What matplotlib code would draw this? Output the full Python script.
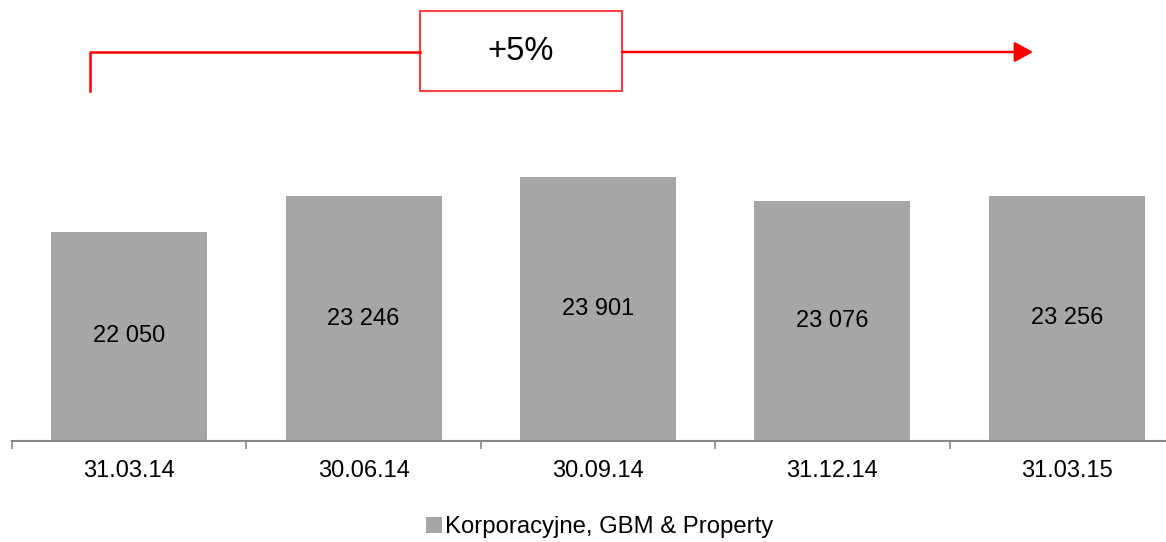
import matplotlib
matplotlib.use("Agg")
import matplotlib.pyplot as plt
from matplotlib.lines import Line2D
from matplotlib.patches import Rectangle, FancyArrowPatch

plt.rcParams['font.family'] = ['Liberation Sans', 'DejaVu Sans']

categories = ["31.03.14", "30.06.14", "30.09.14", "31.12.14", "31.03.15"]
values = [22050, 23246, 23901, 23076, 23256]
series_name = "Korporacyjne, GBM & Property"
growth_label = "+5%"

W, H = 1166, 542
fig = plt.figure(figsize=(W / 100, H / 100), dpi=100)

def fx(px):
    return px / W

def fy(py):
    return 1 - py / H

# plot area: baseline at y=441 px, one category every ~234.4 px starting at x=12
ax = fig.add_axes([fx(12), fy(441), fx(5 * 234.4), 441 / H])
ymin, ymax = 15000, 29850
x = list(range(len(categories)))
bar_color = "#A6A6A6"
ax.bar(x, [v - ymin for v in values], bottom=ymin, width=0.666, color=bar_color,
       label=series_name, zorder=2)
ax.set_xlim(-0.5, len(categories) - 0.5)
ax.set_ylim(ymin, ymax)

for xi, v in zip(x, values):
    ax.text(xi, (ymin + v) / 2, f"{v:,}".replace(",", " "), ha="center", va="center",
            fontsize=17, color="black", zorder=3)

for side in ("top", "right", "left"):
    ax.spines[side].set_visible(False)
ax.spines["bottom"].set_color("#868686")
ax.spines["bottom"].set_linewidth(1.5)
ax.set_yticks([])
ax.set_xticks(x)
ax.set_xticklabels(categories, fontsize=17)
ax.tick_params(axis="x", which="major", length=0, pad=14)
ax.set_xticks([i - 0.5 for i in range(len(categories) + 1)], minor=True)
ax.tick_params(axis="x", which="minor", length=6, width=1.2, color="#868686", direction="out")

# growth bracket with label box
red = "#FF0000"
fig.add_artist(Line2D([fx(90), fx(90), fx(420)], [fy(91), fy(52), fy(52)],
                      color=red, lw=1.8, transform=fig.transFigure))
fig.add_artist(Rectangle((fx(420), fy(91)), fx(202), 80 / H, transform=fig.transFigure,
                         facecolor="white", edgecolor="#FF4040", lw=1.5))
fig.text(fx(521), fy(52), growth_label, ha="center", va="center", fontsize=23.5)
fig.add_artist(FancyArrowPatch((fx(622), fy(52)), (fx(1033), fy(52)),
                               transform=fig.transFigure,
                               arrowstyle="-|>,head_length=0.4,head_width=0.22",
                               mutation_scale=28, color=red, lw=1.8, shrinkA=0, shrinkB=0))

fig.legend(loc="center", bbox_to_anchor=(fx(600), fy(527)), frameon=False,
           fontsize=17.2, handlelength=0.65, handleheight=0.65, handletextpad=0.15)

fig.savefig("out.png", dpi=100)
